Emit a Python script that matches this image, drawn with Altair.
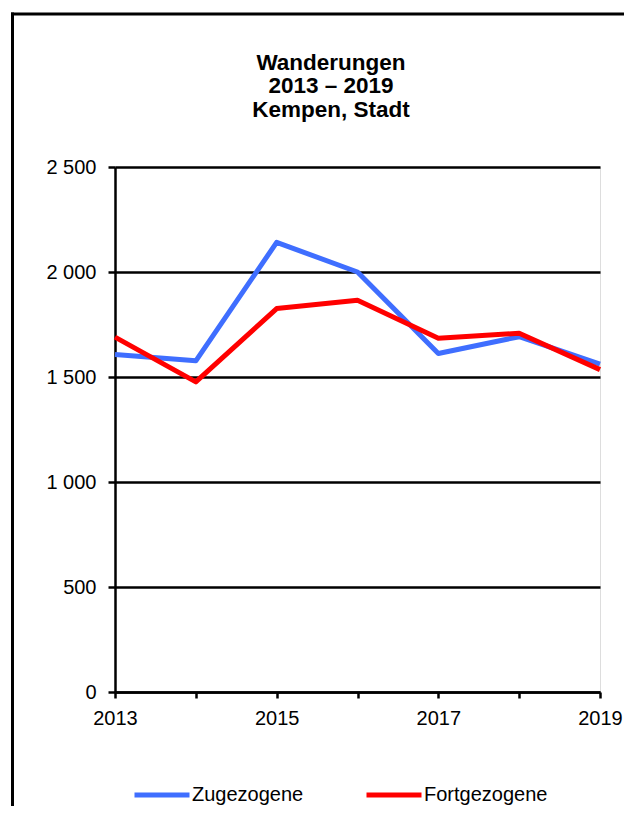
import altair as alt
import pandas as pd

years = [2013, 2014, 2015, 2016, 2017, 2018, 2019]
zugezogene = [1607, 1577, 2141, 2000, 1612, 1692, 1561]
fortgezogene = [1690, 1477, 1826, 1865, 1685, 1708, 1535]
series_names = ["Zugezogene", "Fortgezogene"]
series_colors = ["#3F6EFF", "#FF0000"]
y_ticks = [0, 500, 1000, 1500, 2000, 2500]
title_lines = ["Wanderungen", "2013 \u2013 2019", "Kempen, Stadt"]

rows = []
for y, a, b in zip(years, zugezogene, fortgezogene):
    rows.append({"Jahr": y, "Serie": series_names[0], "Wert": a})
    rows.append({"Jahr": y, "Serie": series_names[1], "Wert": b})
df = pd.DataFrame(rows)

FONT = "Liberation Sans"

lines = alt.Chart(df).mark_line(strokeWidth=5, strokeJoin="round").encode(
    x=alt.X("Jahr:Q",
            scale=alt.Scale(domain=[years[0], years[-1]], nice=False, zero=False),
            axis=alt.Axis(values=years, title=None, grid=False,
                          labelExpr="datum.value % 2 == 1 ? datum.value : ''",
                          tickSize=6, tickWidth=2.5, tickColor="black",
                          domainColor="black", domainWidth=2.5,
                          labelFont=FONT, labelFontSize=20, labelColor="black",
                          labelPadding=10, labelFlush=False, labelOverlap=False)),
    y=alt.Y("Wert:Q",
            scale=alt.Scale(domain=[0, 2500], nice=False),
            axis=alt.Axis(values=y_ticks, title=None, grid=True,
                          gridColor="black", gridWidth=2.5, gridOpacity=1,
                          labelExpr="replace(format(datum.value, ','), ',', ' ')",
                          tickSize=7, tickWidth=2.5, tickColor="black",
                          domainColor="black", domainWidth=2.5,
                          labelFont=FONT, labelFontSize=20, labelColor="black",
                          labelPadding=12, labelFlush=False, labelOverlap=False)),
    color=alt.Color("Serie:N",
                    scale=alt.Scale(domain=series_names, range=series_colors),
                    sort=series_names,
                    legend=alt.Legend(title=None, orient="none", direction="horizontal",
                                      legendX=17, legendY=598,
                                      symbolType="stroke", symbolSize=3025,
                                      symbolStrokeWidth=5,
                                      labelFont=FONT, labelFontSize=20, labelColor="black",
                                      labelOffset=0, columnPadding=52)),
    detail="Serie:N",
)

one_row = alt.Data(values=[{"a": 1}])
title_text = alt.Chart(one_row).mark_text(
    font=FONT, fontSize=22.5, fontWeight="bold", color="black",
    align="center", baseline="alphabetic", lineHeight=23.35
).encode(x=alt.value(216), y=alt.value(-97), text=alt.value(title_lines))

top_border = alt.Chart(one_row).mark_rule(color="black", strokeWidth=3).encode(
    x=alt.value(-104), x2=alt.value(530), y=alt.value(-153)
)
left_border = alt.Chart(one_row).mark_rule(color="black", strokeWidth=3).encode(
    x=alt.value(-102.5), y=alt.value(-154.5), y2=alt.value(700)
)

chart = alt.layer(lines, title_text, top_border, left_border).properties(
    width=485,
    height=525,
    padding={"left": 107, "top": 159, "right": 24, "bottom": 114},
    autosize=alt.AutoSizeParams(type="none"),
).configure_view(
    fill="#FFFFCC", stroke="black", strokeWidth=2.5
).configure(background="white")

chart.save("out.html", embed_options={"renderer": "svg", "actions": False})
